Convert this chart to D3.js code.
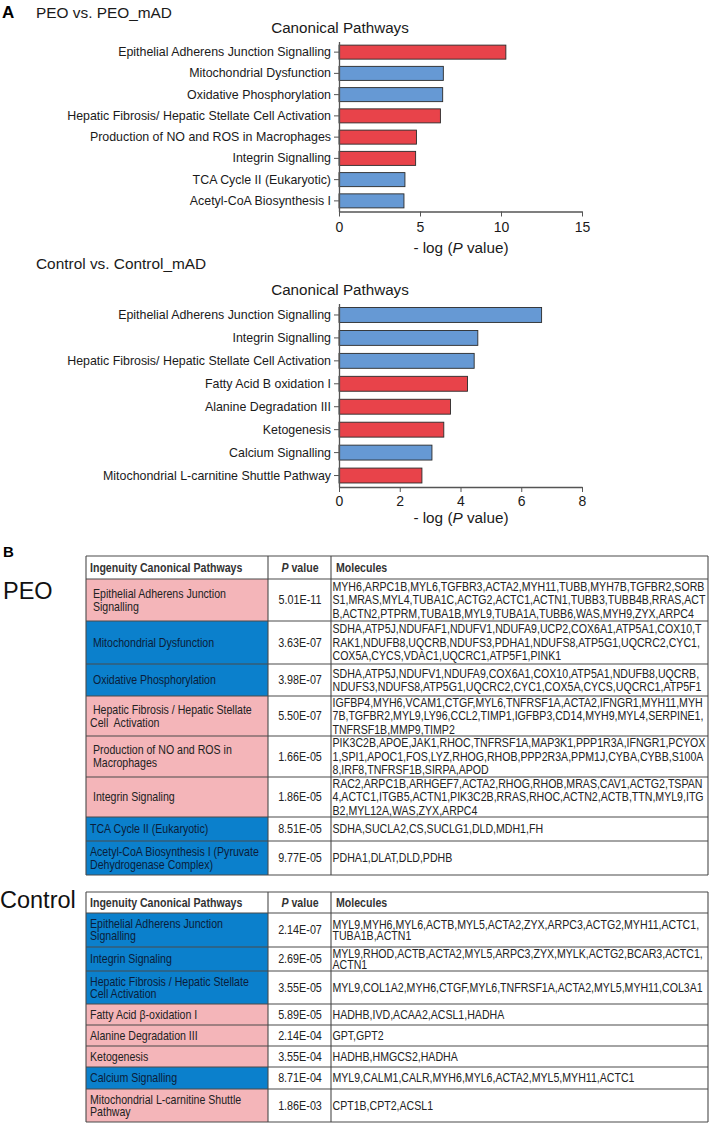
<!DOCTYPE html>
<html><head><meta charset="utf-8">
<script src="https://cdn.jsdelivr.net/npm/d3@7"></script>
<style>body{margin:0;background:#fff}svg text{white-space:pre}</style>
</head><body>
<svg id="fig" width="709" height="1123" xmlns="http://www.w3.org/2000/svg"></svg>
<script>
// ================= DATA =================
// Panel A – PEO vs. PEO_mAD
const peoPathways = ["Epithelial Adherens Junction Signalling","Mitochondrial Dysfunction","Oxidative Phosphorylation","Hepatic Fibrosis/ Hepatic Stellate Cell Activation","Production of NO and ROS in Macrophages","Integrin Signalling","TCA Cycle II (Eukaryotic)","Acetyl-CoA Biosynthesis I"];
const peoLogP = [10.30, 6.44, 6.40, 6.26, 4.78, 4.73, 4.07, 4.01];
const peoDirection = ["up","down","down","up","up","up","down","down"];
const peoTicks = [0, 5, 10, 15];

// Panel A – Control vs. Control_mAD
const ctrlPathways = ["Epithelial Adherens Junction Signalling","Integrin Signalling","Hepatic Fibrosis/ Hepatic Stellate Cell Activation","Fatty Acid B oxidation I","Alanine Degradation III","Ketogenesis","Calcium Signalling","Mitochondrial L-carnitine Shuttle Pathway"];
const ctrlLogP = [6.67, 4.57, 4.45, 4.23, 3.67, 3.45, 3.06, 2.73];
const ctrlDirection = ["down","down","down","up","up","up","down","up"];
const ctrlTicks = [0, 2, 4, 6, 8];

// Panel B – tables
const tableHeaders = ["Ingenuity Canonical Pathways", "P value", "Molecules"];

const peoTableNames = [
  [" Epithelial Adherens Junction", " Signalling"],
  [" Mitochondrial Dysfunction"],
  [" Oxidative Phosphorylation"],
  [" Hepatic Fibrosis / Hepatic Stellate", "Cell  Activation"],
  [" Production of NO and ROS in", " Macrophages"],
  [" Integrin Signaling"],
  ["TCA Cycle II (Eukaryotic)"],
  ["Acetyl-CoA Biosynthesis I (Pyruvate", "Dehydrogenase Complex)"]
];
const peoTablePValues = ["5.01E-11","3.63E-07","3.98E-07","5.50E-07","1.66E-05","1.86E-05","8.51E-05","9.77E-05"];
const peoTableMolecules = [
  ["MYH6,ARPC1B,MYL6,TGFBR3,ACTA2,MYH11,TUBB,MYH7B,TGFBR2,SORB","S1,MRAS,MYL4,TUBA1C,ACTG2,ACTC1,ACTN1,TUBB3,TUBB4B,RRAS,ACT","B,ACTN2,PTPRM,TUBA1B,MYL9,TUBA1A,TUBB6,WAS,MYH9,ZYX,ARPC4"],
  ["SDHA,ATP5J,NDUFAF1,NDUFV1,NDUFA9,UCP2,COX6A1,ATP5A1,COX10,T","RAK1,NDUFB8,UQCRB,NDUFS3,PDHA1,NDUFS8,ATP5G1,UQCRC2,CYC1,","COX5A,CYCS,VDAC1,UQCRC1,ATP5F1,PINK1"],
  ["SDHA,ATP5J,NDUFV1,NDUFA9,COX6A1,COX10,ATP5A1,NDUFB8,UQCRB,","NDUFS3,NDUFS8,ATP5G1,UQCRC2,CYC1,COX5A,CYCS,UQCRC1,ATP5F1"],
  ["IGFBP4,MYH6,VCAM1,CTGF,MYL6,TNFRSF1A,ACTA2,IFNGR1,MYH11,MYH","7B,TGFBR2,MYL9,LY96,CCL2,TIMP1,IGFBP3,CD14,MYH9,MYL4,SERPINE1,","TNFRSF1B,MMP9,TIMP2"],
  ["PIK3C2B,APOE,JAK1,RHOC,TNFRSF1A,MAP3K1,PPP1R3A,IFNGR1,PCYOX","1,SPI1,APOC1,FOS,LYZ,RHOG,RHOB,PPP2R3A,PPM1J,CYBA,CYBB,S100A","8,IRF8,TNFRSF1B,SIRPA,APOD"],
  ["RAC2,ARPC1B,ARHGEF7,ACTA2,RHOG,RHOB,MRAS,CAV1,ACTG2,TSPAN","4,ACTC1,ITGB5,ACTN1,PIK3C2B,RRAS,RHOC,ACTN2,ACTB,TTN,MYL9,ITG","B2,MYL12A,WAS,ZYX,ARPC4"],
  ["SDHA,SUCLA2,CS,SUCLG1,DLD,MDH1,FH"],
  ["PDHA1,DLAT,DLD,PDHB"]
];

const ctrlTableNames = [
  ["Epithelial Adherens Junction", "Signalling"],
  ["Integrin Signaling"],
  ["Hepatic Fibrosis / Hepatic Stellate", "Cell Activation"],
  ["Fatty Acid \u03B2-oxidation I"],
  ["Alanine Degradation III"],
  ["Ketogenesis"],
  ["Calcium Signalling"],
  ["Mitochondrial L-carnitine Shuttle", "Pathway"]
];
const ctrlTablePValues = ["2.14E-07","2.69E-05","3.55E-05","5.89E-05","2.14E-04","3.55E-04","8.71E-04","1.86E-03"];
const ctrlTableMolecules = [
  ["MYL9,MYH6,MYL6,ACTB,MYL5,ACTA2,ZYX,ARPC3,ACTG2,MYH11,ACTC1,","TUBA1B,ACTN1"],
  ["MYL9,RHOD,ACTB,ACTA2,MYL5,ARPC3,ZYX,MYLK,ACTG2,BCAR3,ACTC1,","ACTN1"],
  ["MYL9,COL1A2,MYH6,CTGF,MYL6,TNFRSF1A,ACTA2,MYL5,MYH11,COL3A1"],
  ["HADHB,IVD,ACAA2,ACSL1,HADHA"],
  ["GPT,GPT2"],
  ["HADHB,HMGCS2,HADHA"],
  ["MYL9,CALM1,CALR,MYH6,MYL6,ACTA2,MYL5,MYH11,ACTC1"],
  ["CPT1B,CPT2,ACSL1"]
];

// ================= LAYOUT / STYLE =================
const FONT = "'Liberation Sans', Arial, Helvetica, sans-serif";
const RED = "#e8434a", BLUE = "#6699d4", PINK = "#f4b5b9", CELLBLUE = "#0b80cc";
const peoRowH = [42, 43, 32, 40, 41, 40, 24, 34];
const ctrlRowH = [34, 24, 33, 21, 21, 21, 22, 33];
const TFS = 12.4;      // table font size (condensed horizontally)
const TSX = 0.855;     // horizontal condensing of table text

const svg = d3.select("#fig").style("font-family", FONT);

function barChart(cfg) {
  const g = svg.append("g");
  const x = d3.scaleLinear().domain([0, d3.max(cfg.ticks)]).range([339, 582]);
  const y = d3.scaleBand().domain(cfg.names).range([cfg.top, cfg.bottom])
    .paddingInner(cfg.pad).paddingOuter(cfg.pad / 2);

  g.append("text").attr("x", 340).attr("y", cfg.titleY).attr("text-anchor", "middle")
    .attr("font-size", 15.2).attr("fill", "#1a1a1a").text("Canonical Pathways");

  g.selectAll("rect.bar").data(cfg.names).join("rect").attr("class", "bar")
    .attr("x", x(0)).attr("y", d => y(d))
    .attr("width", (d, i) => x(cfg.values[i]) - x(0))
    .attr("height", y.bandwidth())
    .attr("fill", (d, i) => cfg.dir[i] === "up" ? RED : BLUE)
    .attr("stroke", "#2a2a2a").attr("stroke-width", 0.9);

  const ya = g.append("g").attr("transform", `translate(${x(0)},0)`)
    .call(d3.axisLeft(y).tickSize(5).tickSizeOuter(0).tickPadding(3));
  ya.select(".domain").attr("stroke", "#555").attr("stroke-width", 1.3);
  ya.selectAll(".tick line").attr("stroke", "#555");
  ya.selectAll(".tick text").attr("font-size", 12.4).attr("fill", "#1a1a1a").attr("font-family", FONT);

  const xa = g.append("g").attr("transform", `translate(0,${cfg.bottom})`)
    .call(d3.axisBottom(x).tickValues(cfg.ticks).tickSize(5).tickSizeOuter(0).tickPadding(cfg.tickPad));
  xa.select(".domain").attr("stroke", "#555").attr("stroke-width", 1.3);
  xa.selectAll(".tick line").attr("stroke", "#555");
  xa.selectAll(".tick text").attr("font-size", 14).attr("fill", "#1a1a1a").attr("font-family", FONT);

  const t = g.append("text").attr("x", 461).attr("y", cfg.labelY).attr("text-anchor", "middle")
    .attr("font-size", 15.3).attr("fill", "#1a1a1a");
  t.append("tspan").text("- log (");
  t.append("tspan").attr("font-style", "italic").text("P");
  t.append("tspan").text(" value)");
}

svg.append("text").attr("x", 2).attr("y", 18).attr("font-size", 17).attr("font-weight", "bold").text("A");
svg.append("text").attr("x", 36).attr("y", 18).attr("font-size", 15.4).attr("fill", "#1a1a1a").text("PEO vs. PEO_mAD");
svg.append("text").attr("x", 36).attr("y", 268.5).attr("font-size", 15.4).attr("fill", "#1a1a1a").text("Control vs. Control_mAD");

barChart({names: peoPathways, values: peoLogP, dir: peoDirection, ticks: peoTicks,
  top: 41.5, bottom: 211.5, pad: 0.34, titleY: 32.5, labelY: 252.5, tickPad: 6});
barChart({names: ctrlPathways, values: ctrlLogP, dir: ctrlDirection, ticks: ctrlTicks,
  top: 303.5, bottom: 487, pad: 0.35, titleY: 294.5, labelY: 523, tickPad: 4});

// ================= TABLES =================
function ctext(g, x, y, str, opts = {}) {
  const sx = opts.sx || TSX;
  const t = g.append("text")
    .attr("transform", `translate(${x},${y}) scale(${sx},1)`)
    .attr("font-size", opts.size || TFS)
    .attr("fill", opts.fill || "#222");
  if (opts.anchor) t.attr("text-anchor", opts.anchor);
  if (opts.bold) t.attr("font-weight", "bold");
  if (str !== null) t.text(str);
  return t;
}

function table(cfg) {
  const g = svg.append("g");
  const X0 = 86, X1 = 268, X2 = 331, X3 = 708;
  let yy = cfg.top + cfg.headerH;
  const rows = cfg.names.map((n, i) => { const r = {i, y0: yy, h: cfg.rowH[i]}; yy += cfg.rowH[i]; return r; });
  const bottom = yy;

  g.selectAll("rect.cell").data(rows).join("rect").attr("class", "cell")
    .attr("x", X0).attr("y", r => r.y0).attr("width", X1 - X0).attr("height", r => r.h)
    .attr("fill", r => cfg.dir[r.i] === "up" ? PINK : CELLBLUE);

  const hy = [cfg.top, cfg.top + cfg.headerH].concat(rows.map(r => r.y0 + r.h));
  g.selectAll("line.h").data(hy).join("line").attr("class", "h")
    .attr("x1", X0).attr("x2", X3).attr("y1", d => d).attr("y2", d => d)
    .attr("stroke", "#4a4a4a").attr("stroke-width", 1.1);
  g.selectAll("line.v").data([X0, X1, X2, X3]).join("line").attr("class", "v")
    .attr("x1", d => d).attr("x2", d => d).attr("y1", cfg.top).attr("y2", bottom)
    .attr("stroke", "#4a4a4a").attr("stroke-width", 1.1);

  const off = 4.3;
  const hc = cfg.top + cfg.headerH / 2 + off;
  ctext(g, 90, hc, tableHeaders[0], {bold: true, fill: "#333"});
  const pv = ctext(g, 300, hc, null, {bold: true, fill: "#333", anchor: "middle"});
  pv.append("tspan").attr("font-style", "italic").text("P");
  pv.append("tspan").text(" value");
  ctext(g, 336, hc, tableHeaders[2], {bold: true, fill: "#333"});

  rows.forEach(r => {
    const yc = r.y0 + r.h / 2;
    const names = cfg.names[r.i];
    const nameFill = cfg.dir[r.i] === "up" ? "#222" : "#0a1d3a";
    names.forEach((s, k) => {
      ctext(g, 90, yc - (names.length - 1) * cfg.nameLH / 2 + k * cfg.nameLH + off, s, {fill: nameFill});
    });
    ctext(g, 300, yc + off, cfg.pvals[r.i], {anchor: "middle", sx: 0.87});
    const mols = cfg.mols[r.i];
    mols.forEach((s, k) => {
      const t = ctext(g, 332.5, yc - (mols.length - 1) * cfg.molLH / 2 + k * cfg.molLH + off, s);
      const w = t.node().getComputedTextLength();
      if (w * TSX > 374.5) t.attr("textLength", 374.5 / TSX).attr("lengthAdjust", "spacingAndGlyphs");
    });
  });
}

svg.append("text").attr("x", 3).attr("y", 557).attr("font-size", 15).attr("font-weight", "bold").text("B");
svg.append("text").attr("x", 3).attr("y", 598.5).attr("font-size", 23.5).attr("fill", "#111").text("PEO");
svg.append("text").attr("x", 0).attr("y", 908).attr("font-size", 23.5).attr("fill", "#111").text("Control");

table({top: 556, headerH: 23, rowH: peoRowH, names: peoTableNames, pvals: peoTablePValues,
  mols: peoTableMolecules, dir: peoDirection, nameLH: 12.7, molLH: 13.6});
table({top: 892, headerH: 21, rowH: ctrlRowH, names: ctrlTableNames, pvals: ctrlTablePValues,
  mols: ctrlTableMolecules, dir: ctrlDirection, nameLH: 11.7, molLH: 11.5});
</script>
</body></html>
